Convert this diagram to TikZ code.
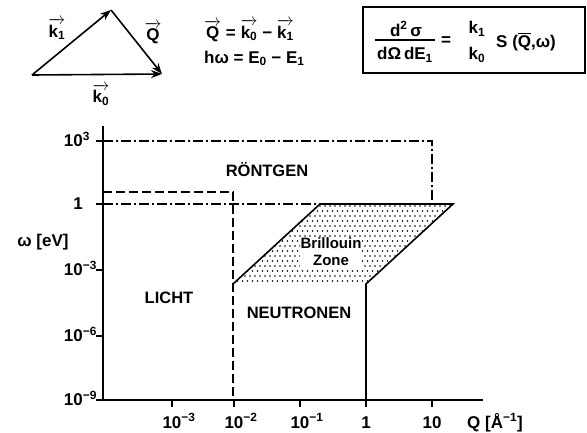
\documentclass[tikz,border=0pt]{standalone}
\usepackage{fix-cm}
\usepackage{amsmath}
\usepackage{fontspec}
\setmainfont{Liberation Sans}
\usetikzlibrary{arrows.meta}
\newcommand{\vecv}[1]{\ensuremath{\overrightarrow{\mbox{#1}}}}
\begin{document}
\begin{tikzpicture}[x=1pt,y=-1pt,
  lbl/.style={font=\fontsize{16.5}{19}\selectfont\bfseries, inner sep=0pt},
  tlbl/.style={font=\fontsize{17}{19}\selectfont\bfseries, inner sep=0pt},
  flbl/.style={font=\fontsize{17}{20}\selectfont\bfseries, inner sep=0pt},
  axisline/.style={line width=1.8pt},
  tickline/.style={line width=1.5pt},
  dashdot/.style={line width=1.4pt, dash pattern=on 10pt off 3pt on 2pt off 3pt},
  dashline/.style={line width=1.6pt, dash pattern=on 9pt off 4pt},
  solidline/.style={line width=1.6pt},
  vecarrow/.style={line width=1.6pt, -{Stealth[length=11pt,width=8pt]}}]
\useasboundingbox (0,0) rectangle (587,432);

% ---- vector triangle ----
\coordinate (vO) at (32,75);
\coordinate (vP) at (111,10);
\coordinate (vR) at (162,74);
\draw[vecarrow] (vO) -- (vP);
\draw[vecarrow] (vP) -- (vR);
\draw[vecarrow] (vO) -- (vR);
\node[flbl] (lk1) at (57,29) {\vecv{k\textsubscript{1}}};
\node[flbl] (lQ) at (153,33) {\vecv{Q}};
\node[flbl] (lk0) at (101,95) {\vecv{k\textsubscript{0}}};

% ---- equations ----
\node[flbl, anchor=base west] (eq1) at (204,38) {\vecv{Q} = \vecv{k\textsubscript{0}} − \vecv{k\textsubscript{1}}};
\node[flbl, anchor=base west] (eq2) at (204,63) {hω = E\textsubscript{0} − E\textsubscript{1}};

% ---- formula box ----
\node[draw, line width=1.3pt, minimum width=222pt, minimum height=66pt, inner sep=0pt] (formula) at (474,40) {};
\node[flbl] (num) at (406,29) {d\textsuperscript{2}\,σ};
\node[flbl] (den) at (405,55) {dΩ\,dE\textsubscript{1}};
\coordinate (fb1) at (375,40);
\coordinate (fb2) at (435,40);
\draw[line width=1.5pt] (fb1) -- (fb2);
\node[flbl] (eqs) at (446,41) {=};
\node[flbl] (kone) at (477,29) {k\textsubscript{1}};
\node[flbl] (kzero) at (477,55) {k\textsubscript{0}};
\node[flbl, anchor=west] (sfun) at (496,42) {S (\ensuremath{\overline{\mbox{Q}}},ω)};

% ---- axes ----
\coordinate (orig) at (103,400);
\coordinate (ytop) at (103,126);
\coordinate (xend) at (483,400);
\draw[axisline] (ytop) -- (orig) -- (xend);

% y ticks
\foreach \yy/\txt in {141/10\rlap{\textsuperscript{3}}, 204/1, 270/10\rlap{\textsuperscript{−3}}, 336/10\rlap{\textsuperscript{−6}}, 400/10\rlap{\textsuperscript{−9}}}{
  \draw[tickline] (96,\yy) -- (103,\yy);
  \node[tlbl, anchor=base east] at (83,\yy+5.5) {\txt};
}
% x ticks
\foreach \xx/\txt in {172/10\rlap{\textsuperscript{−3}}, 234/10\rlap{\textsuperscript{−2}}, 300/10\rlap{\textsuperscript{−1}}, 366/1, 432/10}{
  \draw[tickline] (\xx,400) -- (\xx,407);
  \node[tlbl, anchor=base] at (\xx,428) {\txt};
}
\node[tlbl, anchor=base] (qlab) at (495,428) {Q [Å\textsuperscript{−1}]};
\node[tlbl] (wlab) at (43,242) {ω [eV]};

% ---- Röntgen region ----
\coordinate (r1) at (103,141);
\coordinate (r2) at (432,141);
\coordinate (r3) at (432,204);
\coordinate (r4) at (103,204);
\draw[dashdot] (r1) -- (r2) -- (r3);
\coordinate (bB) at (320,204);
\draw[dashdot] (r4) -- (bB);

% ---- Licht region ----
\coordinate (l1) at (103,192);
\coordinate (l2) at (233,192);
\coordinate (l3) at (233,400);
\draw[dashline] (l1) -- (l2) -- (l3);

% ---- Brillouin zone ----
\coordinate (bA) at (233,284);
\coordinate (bC) at (453,204);
\coordinate (bD) at (366,284);
\coordinate (bE) at (366,400);
\begin{scope}
  \clip (bA) -- (bB) -- (bC) -- (bD) -- cycle;
  \foreach \yy in {206,216,...,286}{
    \foreach \xx in {230,235,...,455}{
      \fill (\xx,\yy) circle (0.85pt);
    }
  }
  \foreach \yy in {211,221,...,286}{
    \foreach \xx in {232.5,237.5,...,457.5}{
      \fill (\xx,\yy) circle (0.85pt);
    }
  }
\end{scope}
\draw[solidline, line join=miter] (bA) -- (bB) -- (bC) -- (bD) -- (bE);

% ---- region labels ----
\node[lbl] (roent) at (267,170) {RÖNTGEN};
\node[fill=white, inner sep=1pt, align=center, font=\fontsize{15}{17}\selectfont\bfseries] (bz) at (331,252) {Brillouin\\Zone};
\node[lbl] (licht) at (169,298) {LICHT};
\node[lbl] (neutr) at (299,313) {NEUTRONEN};
\end{tikzpicture}
\end{document}
